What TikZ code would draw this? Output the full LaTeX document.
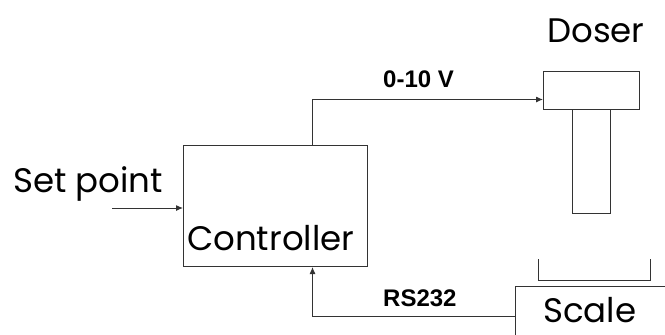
\documentclass[tikz,border=0pt]{standalone}
\usepackage{fontspec}
\setmainfont{Poppins}
\newfontfamily\labelfont{Liberation Sans}
\usepackage{tikz}
\usetikzlibrary{arrows.meta}

\tikzset{
  box/.style={draw=black!80, line width=1pt, inner sep=0pt, anchor=north west},
  bigtext/.style={inner sep=0pt, anchor=base west, font=\fontsize{34}{34}\selectfont},
  sigtext/.style={inner sep=0pt, anchor=base west, font=\labelfont\bfseries\fontsize{24}{24}\selectfont},
  arr/.style={draw=black!80, line width=1pt, -{Latex[length=7pt,width=6pt]}}
}

\begin{document}
\begin{tikzpicture}[x=1pt, y=-1pt]
        \useasboundingbox (0,0) rectangle (665,335);

        \node[box, minimum width=184pt, minimum height=121pt] (ctrl) at (183,145) {};
        \node[bigtext] (ctrltext) at (187,250) {Controller};
        \node[bigtext] (setpoint) at (13,192) {Set point};
        \coordinate (spin) at (112,208);

        \node[box, minimum width=96pt, minimum height=38pt] (doserhead) at (543,71) {};
        \node[box, minimum width=38pt, minimum height=104pt] (doserstem) at (572,109) {};
        \node[bigtext] (doser) at (547,42) {Doser};

        \node[box, minimum width=200pt, minimum height=60pt] (scalebox) at (515,286) {};
        \node[bigtext] (scale) at (543,322) {Scale};
        \draw[draw=black!80, line width=1pt] (538,259) |- (650,280) -- (650,259);

        \node[sigtext] (volt) at (383,87) {0-10 V};
        \node[sigtext] (rs) at (383,306) {RS232};

        \draw[arr] (spin) -- (spin -| ctrl.west);
        \draw[arr] ([xshift=37pt]ctrl.north) |- ([yshift=-9pt]doserhead.west);
        \draw[arr] (scalebox.west) -| ([xshift=37pt]ctrl.south);
    \end{tikzpicture}
\end{document}
